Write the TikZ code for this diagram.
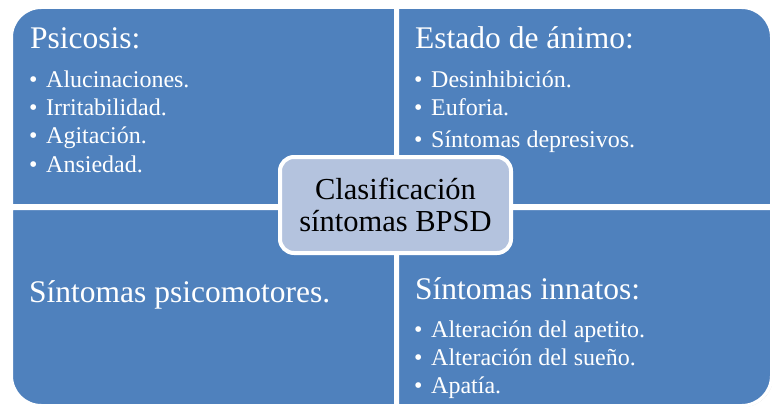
\documentclass[tikz,border=0pt]{standalone}
\usepackage{fontspec}
\setmainfont{Liberation Serif}
\usetikzlibrary{shadows}
\definecolor{quadblue}{RGB}{79,129,189}
\definecolor{hubfill}{RGB}{180,195,222}
\begin{document}
\begin{tikzpicture}[x=1pt,y=-1pt,
  quad/.style={fill=quadblue, draw=white, line width=3.5pt,
    drop shadow={opacity=0.35, shadow xshift=1.2pt, shadow yshift=-1.2pt}},
  headtext/.style={anchor=base west, inner sep=0pt, text=white, font=\fontsize{31.5}{36}\selectfont},
  itemtext/.style={anchor=base west, inner sep=0pt, text=white, font=\fontsize{24}{28}\selectfont},
  hubbox/.style={draw=white, line width=4pt, fill=hubfill, rounded corners=14pt,
    minimum width=231pt, minimum height=96pt, align=center, text=black,
    font=\fontsize{30.5}{32}\selectfont,
    drop shadow={opacity=0.35, shadow xshift=1.2pt, shadow yshift=-1.2pt}}]
\newcommand{\bul}{\makebox[17pt][l]{•}}
\useasboundingbox (0,0) rectangle (772,412);
\fill[white] (0,0) rectangle (772,412);
% quadrants
\path[quad] (11.25,205.75) [rounded corners=30pt] -- (11.25,7.25) [sharp corners] -- (395.75,7.25) -- (395.75,205.75) -- cycle;
\path[quad] (397.25,205.75) -- (397.25,7.25) [rounded corners=30pt] -- (771.75,7.25) [sharp corners] -- (771.75,205.75) -- cycle;
\path[quad] (11.25,208.25) [rounded corners=30pt] -- (11.25,405.75) [sharp corners] -- (395.75,405.75) -- (395.75,208.25) -- cycle;
\path[quad] (397.25,208.25) -- (397.25,405.75) [rounded corners=30pt] -- (771.75,405.75) [sharp corners] -- (771.75,208.25) -- cycle;
% top left
\node[headtext] (psi) at (30,49) {Psicosis:};
\node[itemtext] (psi1) at (29,88) {\bul Alucinaciones.};
\node[itemtext] (psi2) at (29,115) {\bul Irritabilidad.};
\node[itemtext] (psi3) at (29,143) {\bul Agitación.};
\node[itemtext] (psi4) at (29,172) {\bul Ansiedad.};
% top right
\node[headtext] (est) at (415,49) {Estado de ánimo:};
\node[itemtext] (est1) at (414,88) {\bul Desinhibición.};
\node[itemtext] (est2) at (414,115) {\bul Euforia.};
\node[itemtext] (est3) at (414,147) {\bul Síntomas depresivos.};
% bottom left
\node[headtext] (psm) at (29,302) {Síntomas psicomotores.};
% bottom right
\node[headtext] (inn) at (415,299) {Síntomas innatos:};
\node[itemtext] (inn1) at (414,337) {\bul Alteración del apetito.};
\node[itemtext] (inn2) at (414,365) {\bul Alteración del sueño.};
\node[itemtext] (inn3) at (414,393) {\bul Apatía.};
% hub
\node[hubbox] (hub) at (395.5,205) {Clasificación\\síntomas BPSD};
\end{tikzpicture}
\end{document}
